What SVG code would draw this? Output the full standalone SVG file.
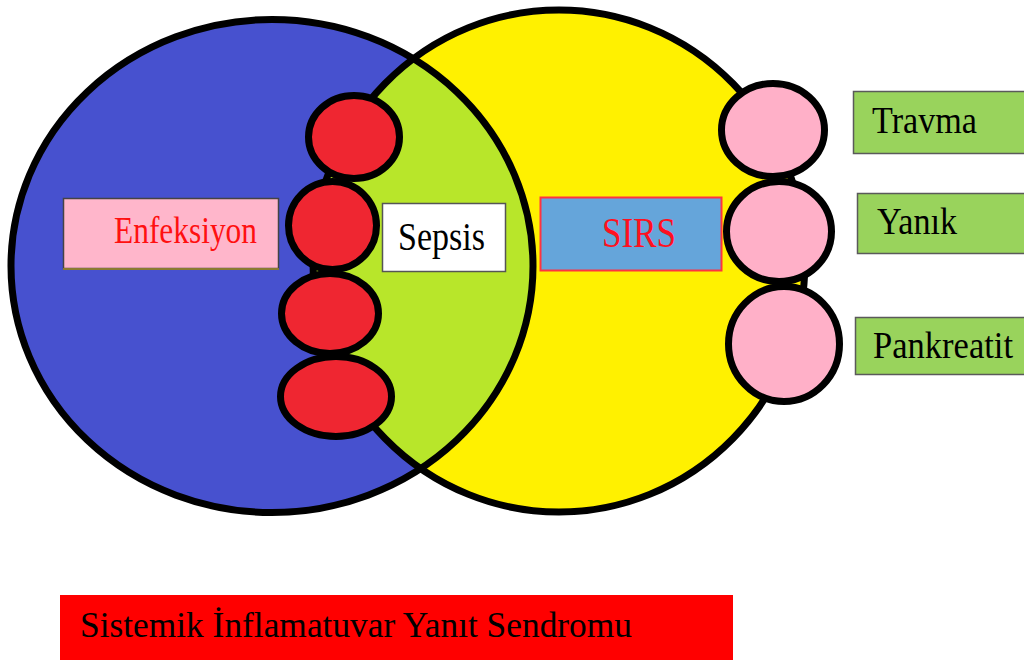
<svg xmlns="http://www.w3.org/2000/svg" width="1024" height="660" viewBox="0 0 1024 660">
  <style>
    .ring { stroke: #000; stroke-width: 7; }
    .bead { stroke: #000; stroke-width: 7; }
    .lbl { font-family: "Liberation Serif", "Times New Roman", serif; }
    .tag { fill: #99D35C; stroke: #5a5a5a; stroke-width: 1.5; }
  </style>
  <defs>
    <clipPath id="sirsClip">
      <ellipse cx="559" cy="261" rx="246" ry="251"/>
    </clipPath>
  </defs>
  <rect width="1024" height="660" fill="#fff"/>

  <!-- Infection set -->
  <g id="infection-set">
    <ellipse cx="272" cy="266" rx="261" ry="246.5" fill="#4751CF"/>
  </g>
  <!-- SIRS set -->
  <g id="sirs-set">
    <ellipse cx="559" cy="261" rx="246" ry="251" fill="#FFF100"/>
  </g>
  <!-- Overlap: sepsis -->
  <g id="overlap">
    <ellipse cx="272" cy="266" rx="261" ry="246.5" fill="#B8E62A" clip-path="url(#sirsClip)"/>
  </g>
  <!-- Outlines of both sets -->
  <g id="set-outlines" fill="none">
    <ellipse class="ring" cx="272" cy="266" rx="261" ry="246.5"/>
    <ellipse class="ring" cx="559" cy="261" rx="246" ry="251"/>
  </g>

  <!-- Red beads along the overlap edge -->
  <g id="red-beads" fill="#EF2631">
    <ellipse class="bead" cx="354" cy="137" rx="45.5" ry="41.5"/>
    <ellipse class="bead" cx="332.5" cy="225.5" rx="44" ry="44"/>
    <ellipse class="bead" cx="330" cy="313.5" rx="48.5" ry="40"/>
    <ellipse class="bead" cx="336" cy="396.5" rx="55.5" ry="40"/>
  </g>

  <!-- Pink beads on the SIRS edge -->
  <g id="pink-beads" fill="#FFB0C8">
    <ellipse class="bead" cx="773" cy="130" rx="51.5" ry="46.5"/>
    <ellipse class="bead" cx="779" cy="231.5" rx="52.5" ry="50"/>
    <ellipse class="bead" cx="784" cy="344" rx="55.5" ry="57.5"/>
  </g>

  <!-- Labels -->
  <g id="node-enfeksiyon">
    <rect x="63.5" y="198.5" width="215" height="70" fill="#FFB6CB" stroke="#444" stroke-width="1.5"/>
    <line x1="63" y1="269" x2="279" y2="269" stroke="#8B7B30" stroke-width="2"/>
    <text class="lbl" x="114" y="243" font-size="38" fill="#FF1010" textLength="143" lengthAdjust="spacingAndGlyphs">Enfeksiyon</text>
  </g>

  <g id="node-sepsis">
    <rect x="382.5" y="203.5" width="123" height="68" fill="#fff" stroke="#555" stroke-width="1.5"/>
    <text class="lbl" x="398" y="250" font-size="40" fill="#000" textLength="87" lengthAdjust="spacingAndGlyphs">Sepsis</text>
  </g>

  <g id="node-sirs">
    <rect x="540.5" y="197.5" width="181" height="73" fill="#65A5DA" stroke="#FF3340" stroke-width="2"/>
    <text class="lbl" x="602" y="247" font-size="42" fill="#FF1020" textLength="74" lengthAdjust="spacingAndGlyphs">SIRS</text>
  </g>

  <g id="node-travma">
    <rect class="tag" x="853.5" y="91.5" width="180" height="62"/>
    <text class="lbl" x="872" y="133" font-size="37" fill="#000" textLength="105" lengthAdjust="spacingAndGlyphs">Travma</text>
  </g>

  <g id="node-yanik">
    <rect class="tag" x="857.5" y="193.5" width="180" height="60"/>
    <text class="lbl" x="877" y="234" font-size="37" fill="#000" textLength="80" lengthAdjust="spacingAndGlyphs">Yanık</text>
  </g>

  <g id="node-pankreatit">
    <rect class="tag" x="855.5" y="317.5" width="180" height="57"/>
    <text class="lbl" x="873" y="358" font-size="37" fill="#000" textLength="140" lengthAdjust="spacingAndGlyphs">Pankreatit</text>
  </g>

  <g id="node-title">
    <rect x="60" y="595" width="673" height="70" fill="#FF0000"/>
    <text class="lbl" x="80" y="637" font-size="36" fill="#000" textLength="552" lengthAdjust="spacingAndGlyphs">Sistemik İnflamatuvar Yanıt Sendromu</text>
  </g>

  <!-- No connectors in this figure -->
  <g id="connectors"/>
</svg>
